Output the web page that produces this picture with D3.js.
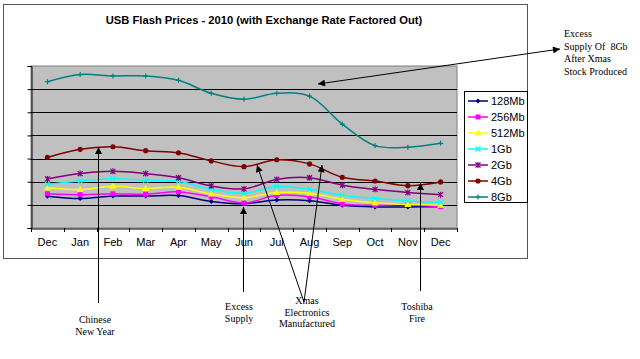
<!DOCTYPE html>
<html><head><meta charset="utf-8">
<script src="https://cdn.jsdelivr.net/npm/d3@7"></script>
<style>body{margin:0;background:#fff}svg{display:block}</style>
</head><body>
<svg id="c" width="640" height="359"></svg>
<script>
const months = ["Dec","Jan","Feb","Mar","Apr","May","Jun","Jul","Aug","Sep","Oct","Nov","Dec"];
const s128Mb = [1.37,1.27,1.38,1.38,1.40,1.15,1.05,1.21,1.18,0.98,0.91,0.91,0.92];
const s256Mb = [1.48,1.44,1.48,1.46,1.56,1.35,1.08,1.41,1.35,1.04,0.98,1.01,0.92];
const s512Mb = [1.74,1.66,1.80,1.71,1.76,1.47,1.31,1.53,1.50,1.24,1.08,1.02,0.98];
const s1Gb   = [1.89,2.03,2.13,2.06,2.02,1.67,1.50,1.79,1.67,1.41,1.27,1.17,1.11];
const s2Gb   = [2.12,2.35,2.45,2.35,2.17,1.82,1.69,2.10,2.17,1.85,1.67,1.53,1.44];
const s4Gb   = [3.05,3.40,3.51,3.34,3.25,2.90,2.65,2.95,2.77,2.19,2.03,1.83,1.99];
const s8Gb   = [6.32,6.63,6.57,6.57,6.38,5.82,5.56,5.82,5.70,4.49,3.56,3.49,3.66];
const seriesNames = ["128Mb","256Mb","512Mb","1Gb","2Gb","4Gb","8Gb"];
const yTicks = [0,1,2,3,4,5,6,7];
const title = "USB Flash Prices - 2010 (with Exchange Rate Factored Out)";

const series = [
  {name:"128Mb", values:s128Mb, color:"#000080", marker:"diamond"},
  {name:"256Mb", values:s256Mb, color:"#ff00ff", marker:"square"},
  {name:"512Mb", values:s512Mb, color:"#ffff00", marker:"triangle"},
  {name:"1Gb",   values:s1Gb,   color:"#00ffff", marker:"x"},
  {name:"2Gb",   values:s2Gb,   color:"#800080", marker:"star"},
  {name:"4Gb",   values:s4Gb,   color:"#800000", marker:"circle"},
  {name:"8Gb",   values:s8Gb,   color:"#008080", marker:"plus"}
];

const svg = d3.select("#c");
const L=31, R=457, T=66, B=228;

svg.append("rect").attr("x",3.5).attr("y",4.5).attr("width",524).attr("height",254)
  .attr("fill","#fff").attr("stroke","#555").attr("stroke-width",1);

const x = d3.scaleBand().domain(d3.range(months.length)).range([L,R]);
const y = d3.scaleLinear().domain([0,7]).range([B,T]);

svg.append("rect").attr("x",L).attr("y",T).attr("width",R-L).attr("height",B-T)
  .attr("fill","#c0c0c0").attr("stroke","#808080");

svg.append("g").selectAll("line").data(yTicks.slice(1,-1)).join("line")
  .attr("x1",L).attr("x2",R).attr("y1",d=>Math.round(y(d))+0.5).attr("y2",d=>Math.round(y(d))+0.5)
  .attr("stroke","#000").attr("stroke-width",1);

const yAxis = svg.append("g").attr("transform",`translate(${L+0.5},0)`)
  .call(d3.axisLeft(y).tickValues(yTicks).tickSize(4).tickFormat(""));
yAxis.select(".domain").attr("stroke","#000");

const xAxis = svg.append("g").attr("transform",`translate(0,${B+0.5})`)
  .call(d3.axisBottom(x).tickFormat(i=>months[i]).tickSize(0).tickPadding(10));
xAxis.select(".domain").attr("stroke","#000");
xAxis.selectAll("text").attr("font-family","Liberation Sans, Arial").attr("font-size","11px").attr("fill","#000");
svg.append("g").selectAll("line").data(d3.range(months.length+1)).join("line")
  .attr("x1",i=>Math.round(L+i*x.step())+0.5).attr("x2",i=>Math.round(L+i*x.step())+0.5)
  .attr("y1",B).attr("y2",B+4).attr("stroke","#000");

const line = d3.line().x((d,i)=>x(i)+x.bandwidth()/2).y(d=>y(d)).curve(d3.curveCatmullRom.alpha(0.5));

function drawMarker(g, type, cx, cy, color){
  const s=2.5;
  if(type==="diamond") g.append("path").attr("d",`M${cx},${cy-s}L${cx+s},${cy}L${cx},${cy+s}L${cx-s},${cy}Z`).attr("fill",color);
  else if(type==="square") g.append("rect").attr("x",cx-2.5).attr("y",cy-2.5).attr("width",5).attr("height",5).attr("fill",color);
  else if(type==="triangle") g.append("path").attr("d",`M${cx},${cy-3.5}L${cx+3.5},${cy+2.5}L${cx-3.5},${cy+2.5}Z`).attr("fill",color);
  else if(type==="x") g.append("path").attr("d",`M${cx-2.5},${cy-2.5}L${cx+2.5},${cy+2.5}M${cx+2.5},${cy-2.5}L${cx-2.5},${cy+2.5}`).attr("stroke",color).attr("stroke-width",1.2);
  else if(type==="star") g.append("path").attr("d",`M${cx-2.5},${cy-2.5}L${cx+2.5},${cy+2.5}M${cx+2.5},${cy-2.5}L${cx-2.5},${cy+2.5}M${cx},${cy-3}L${cx},${cy+3}`).attr("stroke",color).attr("stroke-width",1.2);
  else if(type==="circle") g.append("circle").attr("cx",cx).attr("cy",cy).attr("r",2.6).attr("fill",color);
  else if(type==="plus") g.append("path").attr("d",`M${cx-2.5},${cy}L${cx+2.5},${cy}M${cx},${cy-2.5}L${cx},${cy+2.5}`).attr("stroke",color).attr("stroke-width",1.2);
}

const plot = svg.append("g");
series.forEach(s=>{
  plot.append("path").datum(s.values).attr("d",line).attr("fill","none")
    .attr("stroke",s.color).attr("stroke-width",1.5);
  const mg = plot.append("g");
  s.values.forEach((v,i)=>drawMarker(mg,s.marker,x(i)+x.bandwidth()/2,y(v),s.color));
});

svg.append("text").attr("x",264).attr("y",24).attr("text-anchor","middle")
  .attr("font-family","Liberation Sans, Arial").attr("font-weight","bold").attr("font-size","11.2px")
  .text(title);

const leg = svg.append("g");
leg.append("rect").attr("x",464.5).attr("y",91.5).attr("width",63).attr("height",111)
  .attr("fill","#fff").attr("stroke","#000");
series.forEach((s,i)=>{
  const ly = 101 + i*16;
  leg.append("line").attr("x1",468).attr("x2",488).attr("y1",ly).attr("y2",ly).attr("stroke",s.color).attr("stroke-width",1.5);
  drawMarker(leg,s.marker,478,ly,s.color);
  leg.append("text").attr("x",491).attr("y",ly+4).attr("font-family","Liberation Sans, Arial")
    .attr("font-size","11px").text(s.name);
});

const defs = svg.append("defs");
defs.append("marker").attr("id","ah").attr("viewBox","0 0 10 10").attr("refX",10).attr("refY",5)
  .attr("markerWidth",8).attr("markerHeight",7).attr("markerUnits","userSpaceOnUse").attr("orient","auto-start-reverse")
  .append("path").attr("d","M0,0L10,5L0,10Z").attr("fill","#000");

const ann = svg.append("g").attr("stroke","#000").attr("stroke-width",1);
function arrow(x1,y1,x2,y2,both){
  const l = ann.append("line").attr("x1",x1).attr("y1",y1).attr("x2",x2).attr("y2",y2).attr("marker-end","url(#ah)");
  if(both) l.attr("marker-start","url(#ah)");
}
arrow(98.5,303,98.5,147);
arrow(243.5,292,243.5,207);
arrow(304,302,257,165);
arrow(304,302,322,165);
arrow(420.5,291,420.5,183);
arrow(318,84,560,49,true);

const tg = svg.append("g").attr("font-family","Liberation Serif, Times New Roman").attr("font-size","10px").attr("fill","#000");
function lines(arr,x0,y0,dy,anchor){
  arr.forEach((t,i)=>tg.append("text").attr("x",x0).attr("y",y0+i*dy).attr("text-anchor",anchor).attr("xml:space","preserve").text(t));
}
lines(["Chinese","New Year"],95,323,12,"middle");
lines(["Excess","Supply"],239,310,12,"middle");
lines(["Xmas","Electronics","Manufactured"],307,304,11.5,"middle");
lines(["Toshiba","Fire"],417,310,12,"middle");
lines(["Excess","Supply Of  8Gb","After Xmas","Stock Produced"],564,37,12.5,"start");
</script>
</body></html>
